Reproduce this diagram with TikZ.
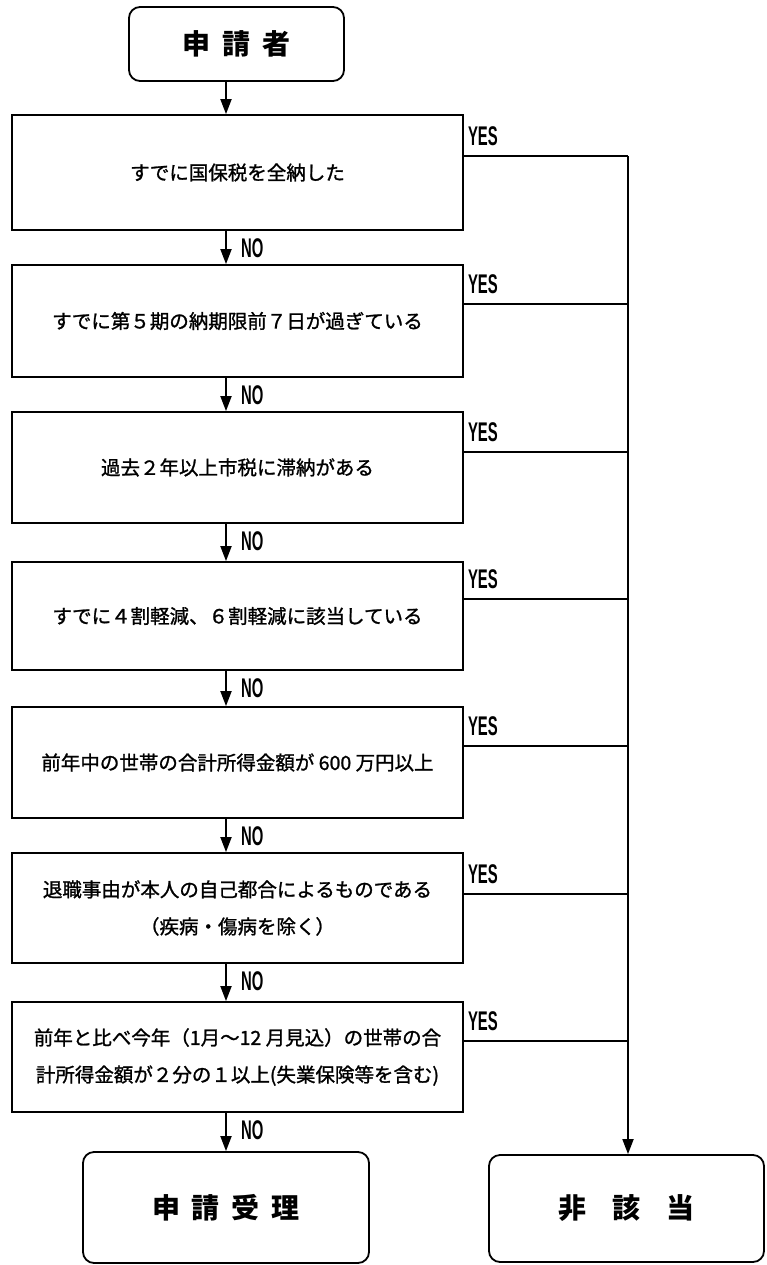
\documentclass[tikz,border=0pt]{standalone}
\usepackage{fontspec}
\setmainfont{Noto Sans CJK JP}
\newfontfamily\boxfont[FakeBold=1.2]{Noto Sans CJK JP}
\newfontfamily\latfont{Liberation Sans}
\usetikzlibrary{arrows.meta,calc}
\begin{document}
\begin{tikzpicture}[x=1pt,y=-1pt,
  cond/.style={draw, line width=1.8pt, minimum width=451pt, align=center,
    font=\boxfont\fontsize{19.5}{37}\selectfont, inner sep=0pt},
  term/.style={draw, line width=1.8pt, rounded corners=11pt,
    font=\fontsize{28}{30}\selectfont\bfseries},
  arr/.style={line width=1.8pt, -{Triangle[length=15pt,width=11pt]}},
  ln/.style={line width=1.8pt},
  lab/.style={inner sep=0pt, font=\latfont\bfseries\fontsize{27}{27}\selectfont},
]
\useasboundingbox (0,0) rectangle (766,1265);
\fill[white] (0,0) rectangle (766,1265);

\coordinate (ax) at (226,0);
\coordinate (vx) at (628,0);

\node[term, minimum width=215pt, minimum height=74pt] (start) at (236.5,44)
  {申\hspace{12pt}請\hspace{12pt}者};

\node[cond, minimum height=115pt] (b1) at (237.5,172.5) {すでに国保税を全納した};
\node[cond, minimum height=112pt] (b2) at (237.5,321) {すでに第５期の納期限前７日が過ぎている};
\node[cond, minimum height=111pt] (b3) at (237.5,467.5) {過去２年以上市税に滞納がある};
\node[cond, minimum height=108pt] (b4) at (237.5,616) {すでに４割軽減、６割軽減に該当している};
\node[cond, minimum height=111pt] (b5) at (237.5,762.5) {前年中の世帯の合計所得金額が 600 万円以上};
\node[cond, minimum height=110pt] (b6) at (237.5,908) {退職事由が本人の自己都合によるものである\\（疾病・傷病を除く）};
\node[cond, minimum height=110pt] (b7) at (237.5,1057) {前年と比べ今年（1月～12 月見込）の世帯の合\\計所得金額が２分の１以上(失業保険等を含む)};

\node[term, minimum width=286pt, minimum height=111pt] (ok) at (226,1207.5)
  {申\hspace{12pt}請\hspace{12pt}受\hspace{12pt}理};
\node[term, minimum width=275pt, minimum height=107pt] (ng) at (626.5,1208.5)
  {非\hspace{26pt}該\hspace{26pt}当};

% NO arrows
\draw[arr] (start.south -| ax) -- (b1.north -| ax);
\foreach \a/\b [count=\i] in {b1/b2,b2/b3,b3/b4,b4/b5,b5/b6,b6/b7,b7/ok}{
  \draw[arr] (\a.south -| ax) -- (\b.north -| ax);
  \node[lab, anchor=west, xscale=0.55] (no\i) at ($(\a.south -| ax)+(15,17)$) {NO};
}

% YES branches
\foreach \b/\d [count=\i] in {b1/42,b2/40,b3/41,b4/38,b5/40,b6/42,b7/40}{
  \coordinate (y\i) at ($(\b.north east)+(0,\d)$);
  \draw[ln] (y\i) -- (y\i -| vx);
  \node[lab, anchor=south west, xscale=0.55] (ys\i) at ($(y\i)+(4,-10)$) {YES};
}
\draw[arr] (y1 -| vx) -- (ng.north -| vx);
\end{tikzpicture}
\end{document}
